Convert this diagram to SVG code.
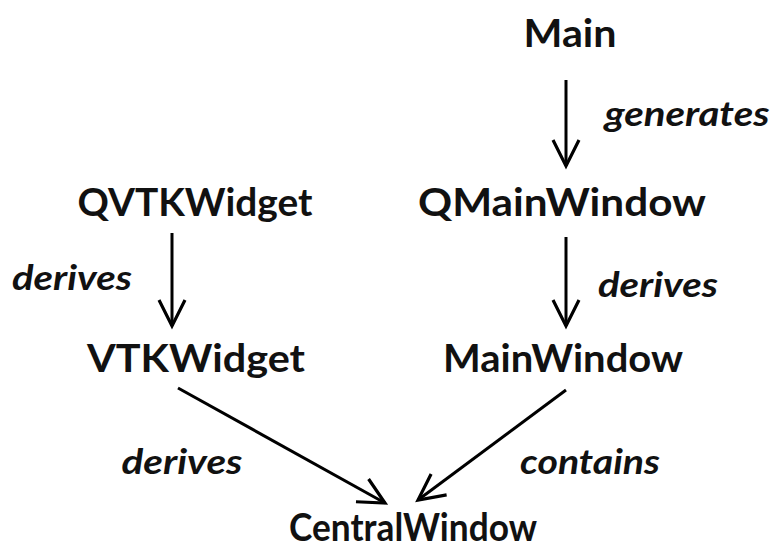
<svg xmlns="http://www.w3.org/2000/svg" width="778" height="560" viewBox="0 0 778 560">
  <defs>
    <marker id="open-arrow" markerUnits="userSpaceOnUse" viewBox="-30 -15 34 30" refX="0" refY="0" markerWidth="34" markerHeight="30" orient="auto">
      <path d="M-26,-13 L0,0 L-26,13" fill="none" stroke="#000" stroke-width="3.2" stroke-linejoin="miter"/>
    </marker>
    <style>
      .node { font-family: Lato, "Open Sans", "Liberation Sans", sans-serif; font-weight: bold; font-size: 39px; fill: #111; text-anchor: middle; }
      .label { font-family: Lato, "Open Sans", "Liberation Sans", sans-serif; font-weight: bold; font-style: italic; font-size: 35px; fill: #111; text-anchor: middle; }
      .edge { stroke: #000; stroke-width: 3; fill: none; marker-end: url(#open-arrow); }
    </style>
  </defs>
  <rect width="778" height="560" fill="#fff"/>

  <g id="connectors">
    <line class="edge" x1="566" y1="80" x2="566" y2="166"/>
    <line class="edge" x1="172" y1="233" x2="172" y2="326"/>
    <line class="edge" x1="566" y1="237" x2="566" y2="326"/>
    <line class="edge" x1="178" y1="388" x2="385" y2="503"/>
    <line class="edge" x1="566" y1="390" x2="418" y2="500"/>
    <text class="label" x="687" y="126" textLength="165" lengthAdjust="spacingAndGlyphs">generates</text>
    <text class="label" x="72" y="290" textLength="120" lengthAdjust="spacingAndGlyphs">derives</text>
    <text class="label" x="658" y="297" textLength="120" lengthAdjust="spacingAndGlyphs">derives</text>
    <text class="label" x="182" y="474" textLength="121" lengthAdjust="spacingAndGlyphs">derives</text>
    <text class="label" x="590" y="474" textLength="140" lengthAdjust="spacingAndGlyphs">contains</text>
  </g>

  <g id="main"><text class="node" x="570" y="47" textLength="93" lengthAdjust="spacingAndGlyphs">Main</text></g>
  <g id="qvtkwidget"><text class="node" x="195" y="216" textLength="235" lengthAdjust="spacingAndGlyphs">QVTKWidget</text></g>
  <g id="qmainwindow"><text class="node" x="562" y="216" textLength="288" lengthAdjust="spacingAndGlyphs">QMainWindow</text></g>
  <g id="vtkwidget"><text class="node" x="196" y="372" textLength="218" lengthAdjust="spacingAndGlyphs">VTKWidget</text></g>
  <g id="mainwindow"><text class="node" x="563" y="372" textLength="240" lengthAdjust="spacingAndGlyphs">MainWindow</text></g>
  <g id="centralwindow"><text class="node" x="413" y="541" textLength="248" lengthAdjust="spacingAndGlyphs">CentralWindow</text></g>
</svg>
